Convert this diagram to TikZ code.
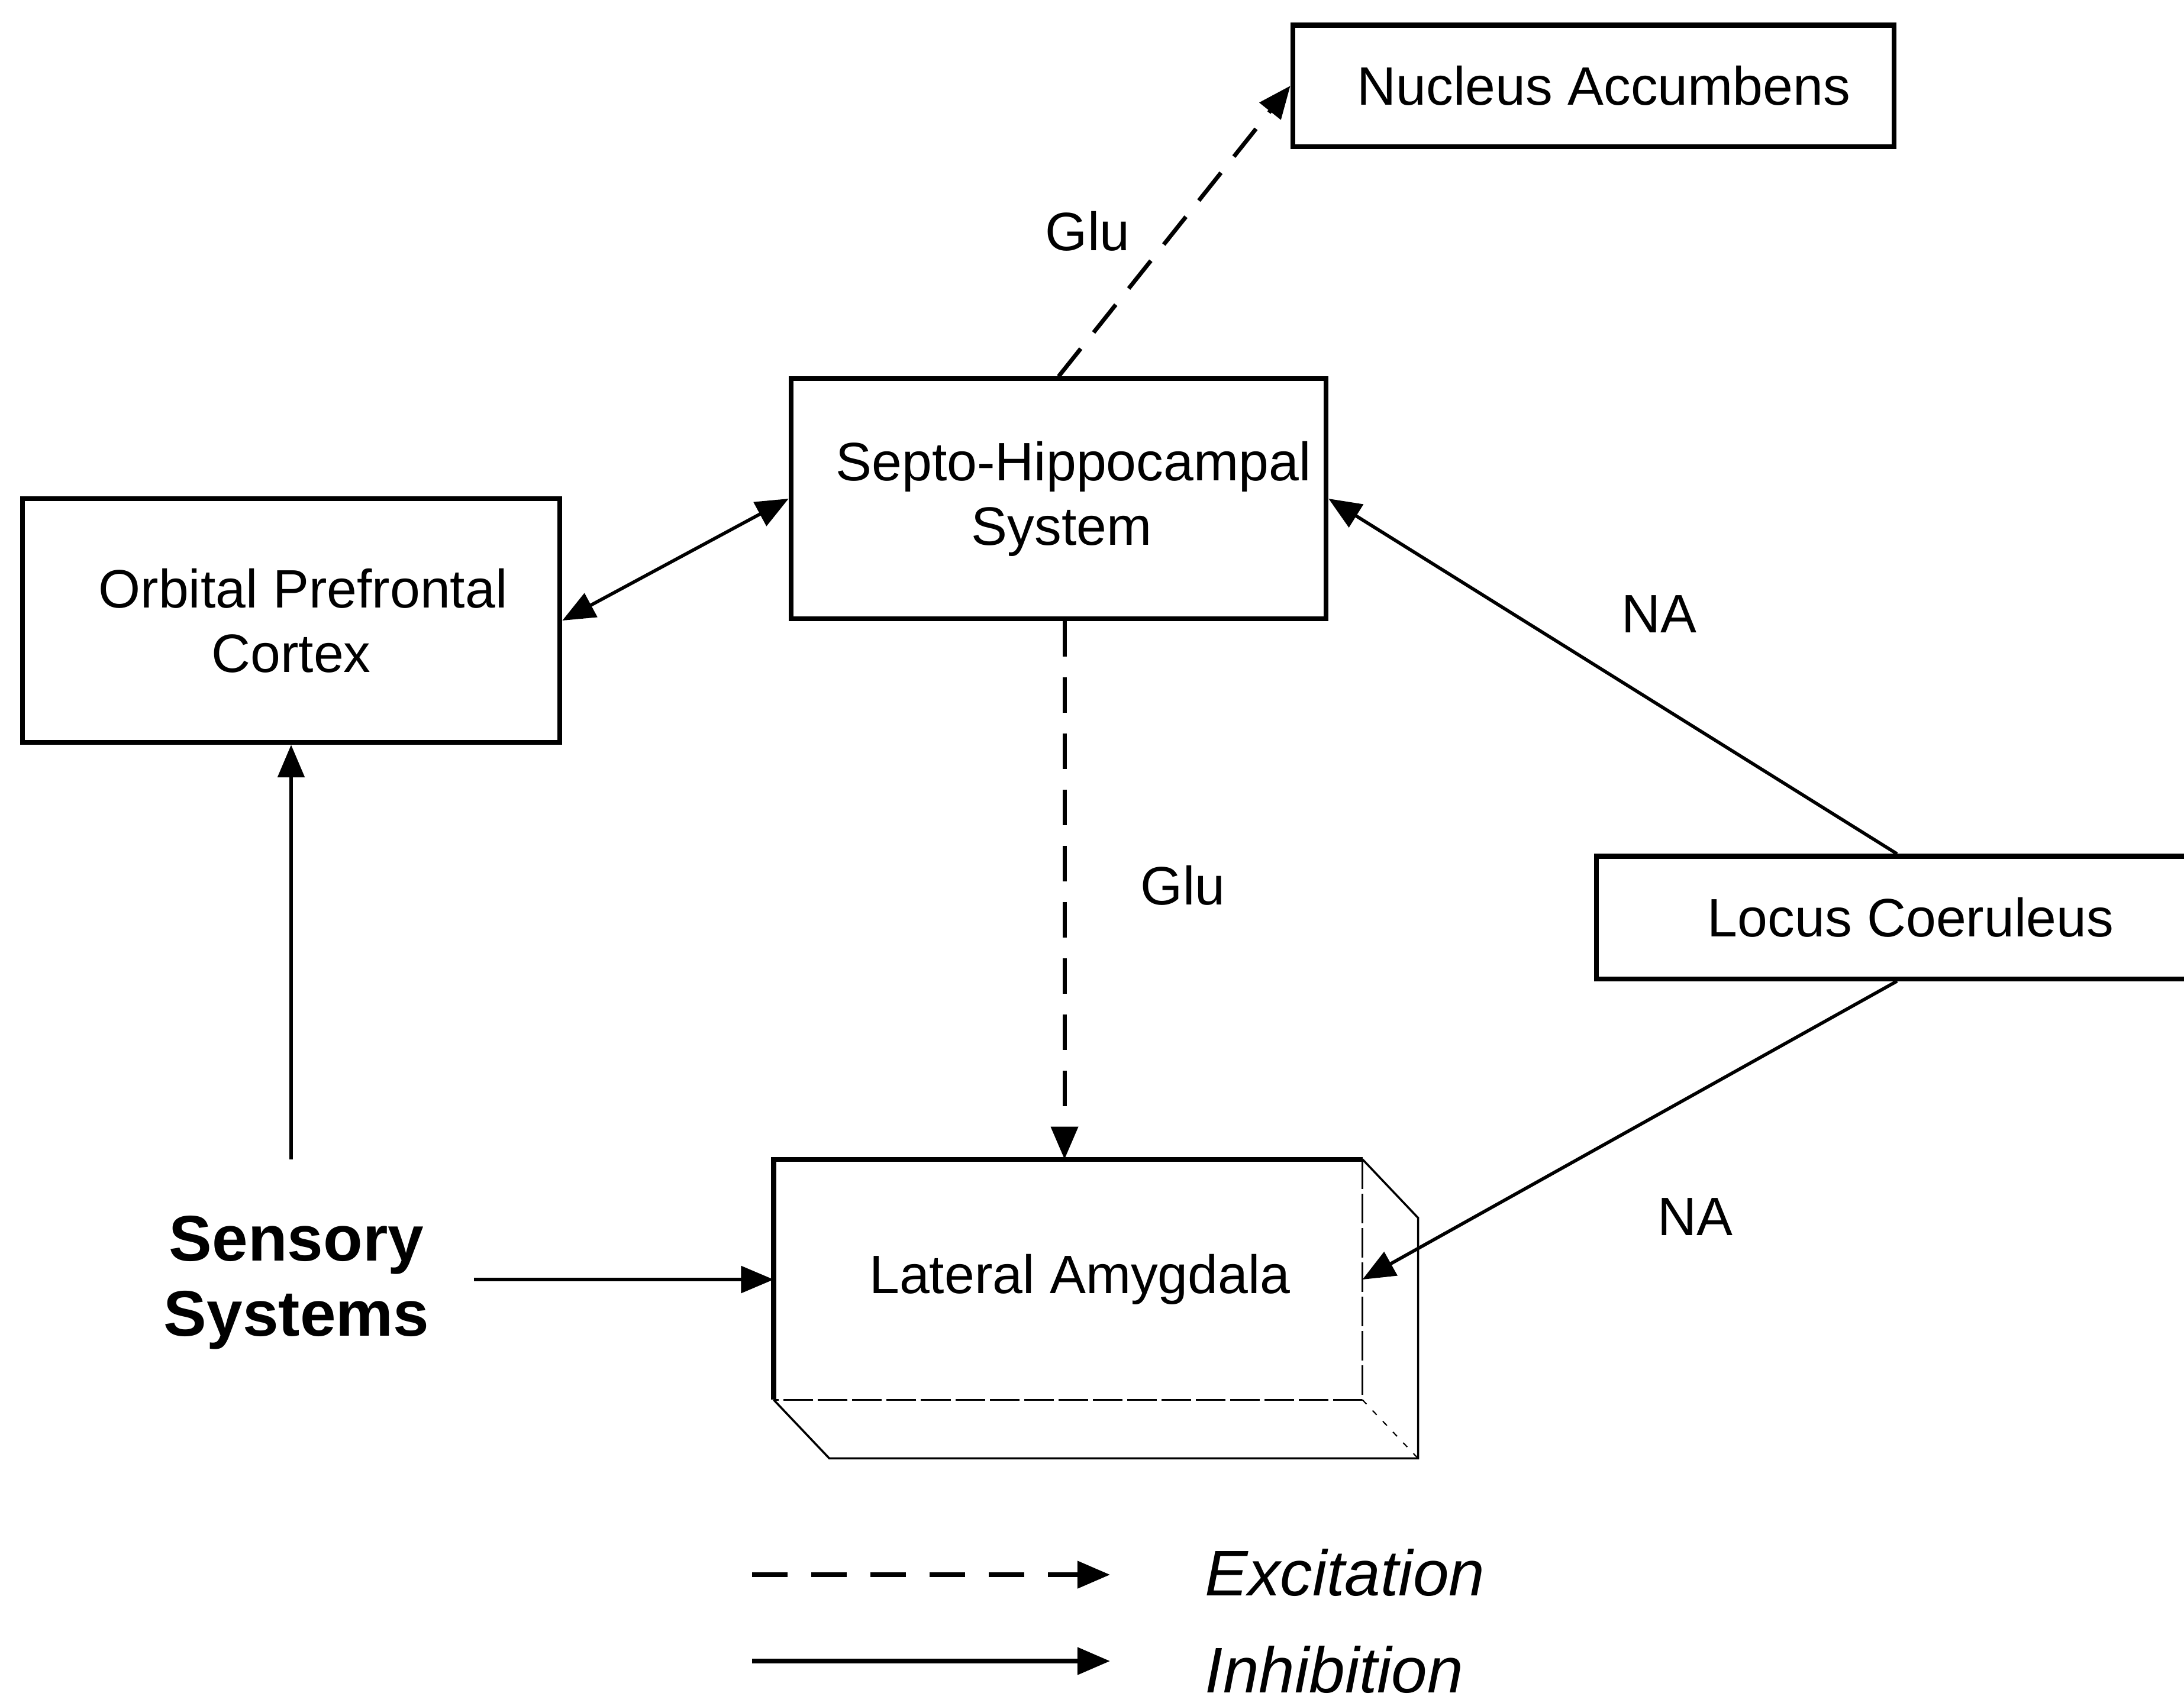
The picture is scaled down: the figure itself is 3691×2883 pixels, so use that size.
\documentclass[tikz,border=0pt]{standalone}
\usepackage{fontspec}
\setmainfont{Liberation Sans}
\usetikzlibrary{arrows.meta}
\begin{document}
\begin{tikzpicture}[x=0.01cm,y=-0.01cm,
  boxnode/.style={draw,line width=2.3pt,inner sep=0pt,align=center,font=\fontsize{26}{31}\selectfont},
  lbl/.style={inner sep=0pt,font=\fontsize{26}{31}\selectfont},
  arr/.style={line width=1.6pt,-{Triangle[length=0.55cm,width=0.45cm]}},
  dasharr/.style={arr,line width=2pt,dash pattern=on 0.6cm off 0.35cm},
  legtext/.style={inner sep=0pt,anchor=west,font=\fontsize{31}{36}\selectfont\itshape}]
\useasboundingbox (0,0) rectangle (3691,2883);
% boxes
\node[boxnode,minimum width=10.16cm,minimum height=2.05cm] (NA) at (2693,145) {\hspace*{0.35cm}Nucleus Accumbens};
\node[boxnode,minimum width=9.04cm,minimum height=4.05cm] (SH) at (1789,843) {\hspace*{0.5cm}Septo-Hippocampal\\\hspace*{0.1cm}System};
\node[boxnode,minimum width=9.08cm,minimum height=4.12cm] (OPC) at (492,1049) {\hspace*{0.4cm}Orbital Prefrontal\\Cortex};
\node[boxnode,minimum width=10.62cm,minimum height=2.07cm] (LC) at (3229,1551) {Locus Coeruleus};
\node[inner sep=0pt,minimum width=9.93cm,minimum height=4.05cm,font=\fontsize{26}{31}\selectfont] (LA) at (1805,2163) {\hspace*{0.4cm}Lateral Amygdala};
% 3D lateral amygdala
\draw[line width=2.3pt] (LA.south west) -- (LA.north west) -- (LA.north east);
\coordinate (LAbr) at ([shift={(94,99)}]LA.south east);
\coordinate (LAbl) at ([shift={(94,99)}]LA.south west);
\coordinate (LAtr) at ([shift={(94,99)}]LA.north east);
\draw[line width=1pt] (LA.north east) -- (LAtr) -- (LAbr) -- (LAbl) -- (LA.south west);
\draw[line width=0.8pt,dash pattern=on 0.5cm off 0.08cm] (LA.north east) -- (LA.south east) -- (LA.south west);
\draw[line width=0.6pt,dash pattern=on 0.1cm off 0.15cm] (LA.south east) -- (LAbr);
% sensory
\node[inner sep=0pt,align=center,font=\fontsize{31}{36}\selectfont\bfseries] (SS) at (501,2168) {Sensory\\Systems};
% connectors
\draw[dasharr] (SH.north) -- (NA.west);
\node[lbl] (glu1) at (1838,391) {Glu};
\draw[line width=1.6pt,{Triangle[length=0.55cm,width=0.45cm]}-{Triangle[length=0.55cm,width=0.45cm]}] (OPC.east) -- (SH.west);
\draw[dasharr] ([xshift=0.1cm]SH.south) -- ([xshift=0.1cm]SH.south |- LA.north);
\node[lbl] (glu2) at (1999,1497) {Glu};
\draw[arr] ([xshift=-0.23cm]LC.north) -- (SH.east);
\node[lbl] (na1) at (2804,1038) {NA};
\draw[arr] ([xshift=-0.23cm]LC.south) -- (LA.east);
\node[lbl] (na2) at (2865,2057) {NA};
\draw[arr,shorten <=0.95cm] (SS.north -| OPC.south) -- (OPC.south);
\draw[arr,shorten <=0.75cm] (SS.east |- LA.west) -- (LA.west);
% legend
\coordinate (e1) at (1271,2662); \coordinate (e2) at (1876,2662);
\coordinate (i1) at (1271,2808); \coordinate (i2) at (1876,2808);
\draw[line width=2.2pt,dash pattern=on 0.6cm off 0.4cm,-{Triangle[length=0.55cm,width=0.45cm]}] (e1) -- (e2);
\draw[line width=2.2pt,-{Triangle[length=0.55cm,width=0.45cm]}] (i1) -- (i2);
\node[legtext] (exc) at (2036,2658) {Excitation};
\node[legtext] (inh) at (2036,2822) {Inhibition};
\end{tikzpicture}
\end{document}
